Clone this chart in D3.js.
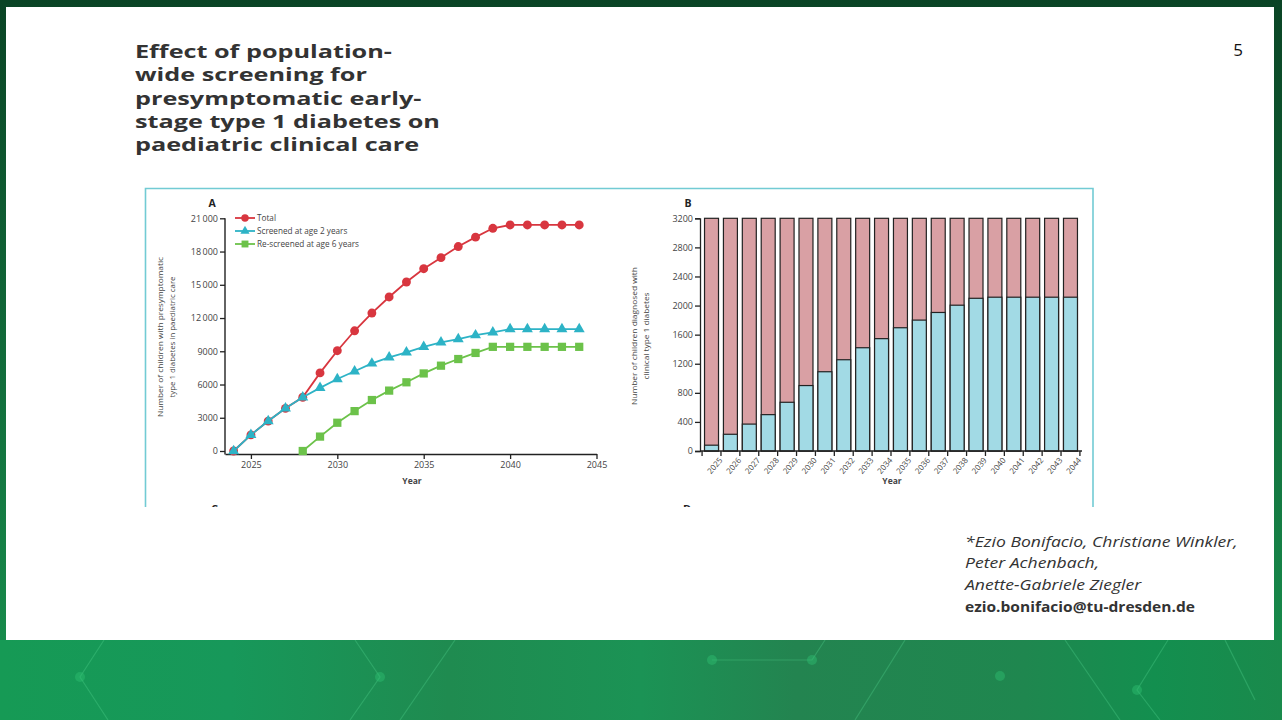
<!DOCTYPE html>
<html>
<head>
<meta charset="utf-8">
<script src="https://cdn.jsdelivr.net/npm/d3@7.9.0/dist/d3.min.js"></script>
<style>
html, body { margin: 0; padding: 0; overflow: hidden; background: #0b4a28; }
svg { display: block; }
text { font-family: "Open Sans", sans-serif; }
</style>
</head>
<body>
<svg id="slide"></svg>
<script>
// ---- data ----
const years = [2024, 2025, 2026, 2027, 2028, 2029, 2030, 2031, 2032, 2033, 2034, 2035, 2036, 2037, 2038, 2039, 2040, 2041, 2042, 2043, 2044];
const totalCare = [0, 1450, 2700, 3850, 4850, 7050, 9050, 10850, 12450, 13900, 15250, 16450, 17450, 18450, 19300, 20100, 20400, 20400, 20400, 20400, 20400];
const screenedAge2 = [0, 1450, 2700, 3850, 4850, 5700, 6500, 7200, 7900, 8450, 8900, 9400, 9800, 10100, 10450, 10700, 11000, 11000, 11000, 11000, 11000];
const rescreenYears = [2028, 2029, 2030, 2031, 2032, 2033, 2034, 2035, 2036, 2037, 2038, 2039, 2040, 2041, 2042, 2043, 2044];
const rescreenedAge6 = [0, 1300, 2550, 3600, 4600, 5450, 6200, 7000, 7700, 8300, 8850, 9400, 9400, 9400, 9400, 9400, 9400];
const seriesNames = ["Total", "Screened at age 2 years", "Re-screened at age 6 years"];
const yTicksA = [0, 3000, 6000, 9000, 12000, 15000, 18000, 21000];
const xTicksA = [2025, 2030, 2035, 2040, 2045];

const barYears = [2025, 2026, 2027, 2028, 2029, 2030, 2031, 2032, 2033, 2034, 2035, 2036, 2037, 2038, 2039, 2040, 2041, 2042, 2043, 2044];
const barTotal = [3200, 3200, 3200, 3200, 3200, 3200, 3200, 3200, 3200, 3200, 3200, 3200, 3200, 3200, 3200, 3200, 3200, 3200, 3200, 3200];
const barDiagnosed = [80, 230, 370, 500, 670, 900, 1090, 1255, 1420, 1545, 1695, 1800, 1905, 2005, 2100, 2115, 2115, 2115, 2115, 2115];
const yTicksB = [0, 400, 800, 1200, 1600, 2000, 2400, 2800, 3200];

const titleLines = ["Effect of population-", "wide screening for", "presymptomatic early-", "stage type 1 diabetes on", "paediatric clinical care"];
const authorLines = ["*Ezio Bonifacio, Christiane Winkler,", "Peter Achenbach,", "Anette-Gabriele Ziegler"];
const email = "ezio.bonifacio@tu-dresden.de";

const width = 1282;
const height = 720;
const ink = "#222";
const tickGrey = "#444";

const svg = d3.select("#slide").attr("width", width).attr("height", height);
const defs = svg.append("defs");

// ---- slide background ----
const topGrad = defs.append("linearGradient").attr("id", "topGrad").attr("x1", 0).attr("x2", 0).attr("y1", 0).attr("y2", 1);
topGrad.append("stop").attr("offset", "0%").attr("stop-color", "#0a4425");
topGrad.append("stop").attr("offset", "100%").attr("stop-color", "#178a4b");

const botGrad = defs.append("linearGradient").attr("id", "botGrad").attr("x1", 0).attr("x2", 1).attr("y1", 0).attr("y2", 0);
[["0%", "#169a55"], ["18%", "#17985a"], ["35%", "#1f8b50"], ["50%", "#1b9355"], ["62%", "#238450"], ["80%", "#1f874f"], ["90%", "#138f4f"], ["100%", "#1a8a4c"]]
    .forEach(([o, c]) => botGrad.append("stop").attr("offset", o).attr("stop-color", c));

svg.append("rect").attr("width", width).attr("height", 640).attr("fill", "url(#topGrad)");
svg.append("rect").attr("y", 640).attr("width", width).attr("height", 80).attr("fill", "url(#botGrad)");

// faint network decoration in the footer
const deco = svg.append("g").attr("stroke", "#4fd08b").attr("stroke-opacity", 0.35).attr("stroke-width", 1.2).attr("fill", "none");
[[[104, 640], [80, 677], [108, 720]], [[355, 640], [380, 677], [350, 720]], [[455, 640], [400, 720]],
 [[712, 660], [812, 660], [825, 640]], [[905, 640], [855, 720]], [[1065, 640], [1120, 720]],
 [[1168, 640], [1137, 690], [1160, 720]], [[1225, 640], [1255, 700]]]
    .forEach(pts => deco.append("path").attr("d", d3.line()(pts)));
const dots = svg.append("g").attr("fill", "#2fbf70").attr("fill-opacity", 0.45);
[[80, 677], [380, 677], [712, 660], [812, 660], [1137, 690], [1000, 676]].forEach(([x, y]) =>
    dots.append("circle").attr("cx", x).attr("cy", y).attr("r", 5));

svg.append("rect").attr("x", 6).attr("y", 7).attr("width", 1268).attr("height", 633).attr("fill", "#fff");

// ---- title ----
const title = svg.append("g").attr("transform", "translate(135,0)");
title.selectAll("text").data(titleLines).join("text")
    .attr("x", 0).attr("y", (d, i) => 58 + i * 23.3)
    .attr("font-family", "Lato, sans-serif")
    .attr("font-size", 18).attr("font-weight", 700).attr("fill", "#333")
    .text(d => d);
const longest = d3.max(title.selectAll("text").nodes(), n => n.getComputedTextLength());
title.attr("transform", `translate(135,0) scale(${305 / longest},1)`);

svg.append("text").attr("x", 1238).attr("y", 56).attr("text-anchor", "middle")
    .attr("font-size", 17).attr("fill", "#111").text("5");

// ---- authors ----
const authors = svg.append("g");
authors.selectAll("text").data(authorLines).join("text")
    .attr("x", 0).attr("y", (d, i) => 547 + i * 21.5)
    .attr("font-size", 15).attr("font-style", "italic").attr("fill", "#333")
    .text(d => d);
const aLen = authors.select("text").node().getComputedTextLength();
authors.attr("transform", `translate(965,0) scale(${273 / aLen},1)`);
const mail = svg.append("text").attr("x", 0).attr("y", 612)
    .attr("font-size", 13.5).attr("font-weight", 700).attr("fill", "#333").text(email);
mail.attr("transform", `translate(965,0) scale(${230 / mail.node().getComputedTextLength()},1)`);

// ---- figure frame (cut off at the bottom) ----
defs.append("clipPath").attr("id", "cut").append("rect").attr("width", width).attr("height", 507);
svg.append("path").attr("d", "M145.5,507 V188.5 H1093 V507")
    .attr("fill", "none").attr("stroke", "#72cbd4").attr("stroke-width", 1.6);
const cut = svg.append("g").attr("clip-path", "url(#cut)");
cut.append("text").attr("x", 211).attr("y", 513).attr("font-size", 11).attr("font-weight", 700).attr("fill", ink).text("C");
cut.append("text").attr("x", 683).attr("y", 513).attr("font-size", 11).attr("font-weight", 700).attr("fill", ink).text("D");

function styleAxis(g) {
    g.selectAll("line").attr("stroke", ink).attr("stroke-width", 1.3);
    g.selectAll("path.domain").attr("stroke", ink).attr("stroke-width", 1.3);
    g.selectAll("text").attr("fill", tickGrey).attr("font-size", 9).attr("font-family", "Lato, sans-serif");
}
const fmtThousands = d => d >= 10000 ? d3.format(",")(d).replace(",", "\u2009") : String(d);

// ---- panel A ----
const xA = d3.scaleLinear().domain([2023.5, 2045]).range([225, 596.5]);
const yA = d3.scaleLinear().domain([0, 21000]).range([451, 218.3]);
const a = svg.append("g");

a.append("text").attr("x", 212).attr("y", 207).attr("text-anchor", "middle")
    .attr("font-size", 10.5).attr("font-weight", 700).attr("fill", ink).text("A");

a.append("g").attr("transform", `translate(225,0)`)
    .call(d3.axisLeft(yA).tickValues(yTicksA).tickSize(5).tickPadding(2).tickFormat(fmtThousands))
    .call(g => g.select(".domain").remove())
    .call(styleAxis);
a.append("line").attr("x1", 225).attr("x2", 225).attr("y1", yA(21000)).attr("y2", yA(0) + 3.5)
    .attr("stroke", ink).attr("stroke-width", 1.4);

a.append("g").attr("transform", `translate(0,${yA(0) + 3})`)
    .call(d3.axisBottom(xA).tickValues(xTicksA).tickSize(5).tickSizeOuter(0).tickPadding(3).tickFormat(d3.format("d")))
    .call(styleAxis);
a.append("text").attr("x", 412).attr("y", 484).attr("text-anchor", "middle")
    .attr("font-size", 8.5).attr("font-weight", 700).attr("fill", tickGrey).attr("font-family", "Lato, sans-serif").text("Year");

const yLabA = a.append("g").attr("transform", "translate(163,337) rotate(-90)");
yLabA.append("text").attr("y", 0).attr("text-anchor", "middle").attr("font-size", 7.5).attr("fill", tickGrey)
    .attr("font-family", "Lato, sans-serif").attr("textLength", 160).attr("lengthAdjust", "spacingAndGlyphs")
    .text("Number of children with presymptomatic");
yLabA.append("text").attr("y", 12).attr("text-anchor", "middle").attr("font-size", 7.5).attr("fill", tickGrey)
    .attr("font-family", "Lato, sans-serif").attr("textLength", 121).attr("lengthAdjust", "spacingAndGlyphs")
    .text("type 1 diabetes in paediatric care");

const seriesA = [
    { name: seriesNames[0], xs: years, ys: totalCare, color: "#d8363f", symbol: d3.symbolCircle, size: 62 },
    { name: seriesNames[1], xs: years, ys: screenedAge2, color: "#2db3c6", symbol: d3.symbolTriangle, size: 52 },
    { name: seriesNames[2], xs: rescreenYears, ys: rescreenedAge6, color: "#6cc24a", symbol: d3.symbolSquare, size: 68 }
];
const lineA = d3.line().x(d => xA(d[0])).y(d => yA(d[1]));

seriesA.forEach(s => {
    const pts = s.xs.map((x, i) => [x, s.ys[i]]);
    const sg = a.append("g");
    sg.append("path").attr("d", lineA(pts)).attr("fill", "none").attr("stroke", s.color).attr("stroke-width", 1.8);
    sg.selectAll("path.mk").data(pts).join("path").attr("class", "mk")
        .attr("transform", d => `translate(${xA(d[0])},${yA(d[1])})`)
        .attr("d", d3.symbol(s.symbol, s.size)())
        .attr("fill", s.color);
});

// legend
const leg = a.append("g").attr("transform", "translate(235,218)");
seriesA.forEach((s, i) => {
    const row = leg.append("g").attr("transform", `translate(0,${i * 13})`);
    row.append("line").attr("x1", 0).attr("x2", 20).attr("stroke", s.color).attr("stroke-width", 1.8);
    row.append("path").attr("transform", "translate(10,0)").attr("d", d3.symbol(s.symbol, s.size * 0.7)()).attr("fill", s.color);
    row.append("text").attr("x", 22).attr("dy", "0.35em").attr("font-size", 8.2).attr("fill", tickGrey)
        .attr("font-family", "Lato, sans-serif").text(s.name);
});

// ---- panel B ----
const xB = d3.scaleBand().domain(barYears).range([700, 1082]).paddingInner(0.26).paddingOuter(0.24);
const yB = d3.scaleLinear().domain([0, 3200]).range([451, 218.3]);
const b = svg.append("g");

b.append("text").attr("x", 688).attr("y", 207).attr("text-anchor", "middle")
    .attr("font-size", 10.5).attr("font-weight", 700).attr("fill", ink).text("B");

b.selectAll("rect.rest").data(barYears).join("rect").attr("class", "rest")
    .attr("x", d => xB(d)).attr("width", xB.bandwidth())
    .attr("y", (d, i) => yB(barTotal[i])).attr("height", (d, i) => yB(0) - yB(barTotal[i]))
    .attr("fill", "#d9a0a4").attr("stroke", ink).attr("stroke-width", 1.2);
b.selectAll("rect.diag").data(barYears).join("rect").attr("class", "diag")
    .attr("x", d => xB(d)).attr("width", xB.bandwidth())
    .attr("y", (d, i) => yB(barDiagnosed[i])).attr("height", (d, i) => yB(0) - yB(barDiagnosed[i]))
    .attr("fill", "#a2dae5").attr("stroke", ink).attr("stroke-width", 1.2);

b.append("g").attr("transform", "translate(700,0)")
    .call(d3.axisLeft(yB).tickValues(yTicksB).tickSize(5).tickPadding(2).tickFormat(d3.format("d")))
    .call(styleAxis);

// x axis with ticks between the bars
const half = xB.step() * xB.paddingInner() / 2;
const edges = barYears.map(d => xB(d) - half).concat([xB(barYears[barYears.length - 1]) + xB.bandwidth() + half]);
const xAxB = b.append("g");
xAxB.append("line").attr("x1", 700).attr("x2", 1082).attr("y1", yB(0)).attr("y2", yB(0))
    .attr("stroke", ink).attr("stroke-width", 1.4);
xAxB.selectAll("line.tk").data(edges).join("line").attr("class", "tk")
    .attr("x1", d => d).attr("x2", d => d).attr("y1", yB(0)).attr("y2", yB(0) + 5)
    .attr("stroke", ink).attr("stroke-width", 1.3);
xAxB.selectAll("text").data(barYears).join("text")
    .attr("transform", d => `translate(${xB(d) + xB.bandwidth() / 2 + 7},${yB(0) + 6}) rotate(-50)`)
    .attr("text-anchor", "end").attr("dy", "0.7em")
    .attr("font-size", 8).attr("fill", tickGrey).attr("font-family", "Lato, sans-serif")
    .text(d => d);
b.append("text").attr("x", 892).attr("y", 484).attr("text-anchor", "middle")
    .attr("font-size", 8.5).attr("font-weight", 700).attr("fill", tickGrey).attr("font-family", "Lato, sans-serif").text("Year");

const yLabB = b.append("g").attr("transform", "translate(637,336) rotate(-90)");
yLabB.append("text").attr("y", 0).attr("text-anchor", "middle").attr("font-size", 7.5).attr("fill", tickGrey)
    .attr("font-family", "Lato, sans-serif").attr("textLength", 138).attr("lengthAdjust", "spacingAndGlyphs")
    .text("Number of children diagnosed with");
yLabB.append("text").attr("y", 12).attr("text-anchor", "middle").attr("font-size", 7.5).attr("fill", tickGrey)
    .attr("font-family", "Lato, sans-serif").attr("textLength", 87).attr("lengthAdjust", "spacingAndGlyphs")
    .text("clinical type 1 diabetes");
</script>
</body>
</html>
